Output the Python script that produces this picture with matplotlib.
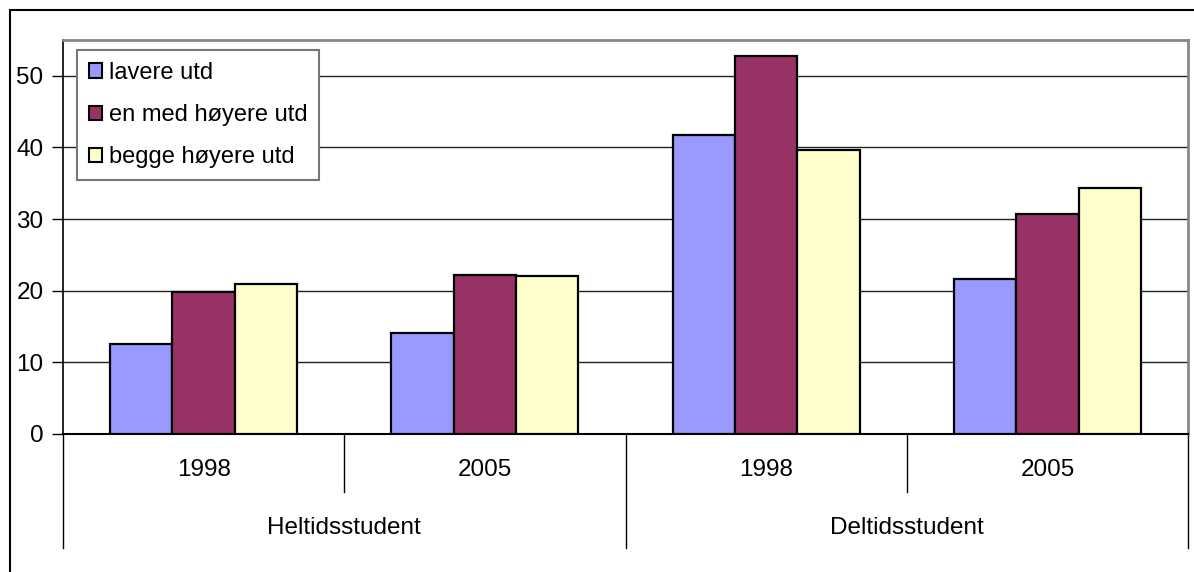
import numpy as np
import matplotlib
matplotlib.use("Agg")
from matplotlib import pyplot
from matplotlib.patches import Rectangle, Patch

groups = ["Heltidsstudent", "Deltidsstudent"]
years = ["1998", "2005", "1998", "2005"]
series = ["lavere utd", "en med høyere utd", "begge høyere utd"]
lavere = [12.6, 14.1, 41.8, 21.6]
enMed = [19.8, 22.2, 52.7, 30.7]
begge = [21.0, 22.0, 39.7, 34.3]
colors = ["#9999FF", "#993366", "#FFFFCC"]

W, H = 1194, 572
FS = 17.5


def fx(px):
    return px / W


def fy(py):
    return 1 - py / H


def plotChart():
    pyplot.rcParams['font.family'] = ["Liberation Sans", "DejaVu Sans"]
    figure = pyplot.figure(figsize = (W / 100, H / 100), dpi = 100)
    figure.patches.append(Rectangle((fx(10), -0.1), 1.2, fy(10) + 0.1, transform = figure.transFigure,
                                    fill = False, edgecolor = 'black', linewidth = 1.5))

    axes = figure.add_axes([fx(63), fy(434), fx(1188) - fx(63), fy(40) - fy(434)])
    x = np.arange(len(years))
    width = 0.2215
    for i, values in enumerate([lavere, enMed, begge]):
        axes.bar(x + (i - 1) * width, values, width = width, color = colors[i],
                 edgecolor = 'black', linewidth = 1.6, zorder = 3)

    axes.set_xlim(-0.5, len(years) - 0.5)
    axes.set_ylim(0, 55)
    axes.set_yticks(np.arange(0, 51, 10))
    axes.tick_params(axis = 'y', length = 8, width = 1, labelsize = FS, pad = 6)
    axes.set_xticks([])
    axes.yaxis.grid(True, color = '#222222', linewidth = 1)
    axes.set_axisbelow(True)
    for side in ['top', 'right']:
        axes.spines[side].set_color('#888888')
        axes.spines[side].set_linewidth(2)
    axes.spines['left'].set_linewidth(1.2)
    axes.spines['bottom'].set_linewidth(1.5)

    # two-level category axis
    trans = axes.get_xaxis_transform()
    axesHeight = 434 - 40
    inner = -(492 - 434) / axesHeight
    outer = -(548 - 434) / axesHeight
    for b in [0.5, 2.5]:
        axes.plot([b, b], [0, inner], color = 'black', linewidth = 1, transform = trans, clip_on = False)
    for b in [-0.5, 1.5, 3.5]:
        axes.plot([b, b], [0, outer], color = 'black', linewidth = 1, transform = trans, clip_on = False)
    for i, year in enumerate(years):
        axes.text(i, -(470 - 434) / axesHeight, year, transform = trans, ha = 'center', va = 'center', fontsize = FS)
    for i, group in enumerate(groups):
        axes.text(0.5 + 2 * i, -(528 - 434) / axesHeight, group, transform = trans, ha = 'center', va = 'center', fontsize = FS)

    handles = [Patch(facecolor = c, edgecolor = 'black', linewidth = 1.5) for c in colors]
    legend = figure.legend(handles, series, loc = 'upper left', bbox_to_anchor = (fx(77), fy(50)),
                           fontsize = 17, frameon = True, fancybox = False, framealpha = 1,
                           handlelength = 0.55, handleheight = 0.55, handletextpad = 0.3,
                           labelspacing = 0.86, borderpad = 0.5, borderaxespad = 0)
    legend.get_frame().set_edgecolor('#777777')
    legend.get_frame().set_linewidth(1.5)

    figure.savefig('out.png', dpi = 100)


def main():
    plotChart()


main()
